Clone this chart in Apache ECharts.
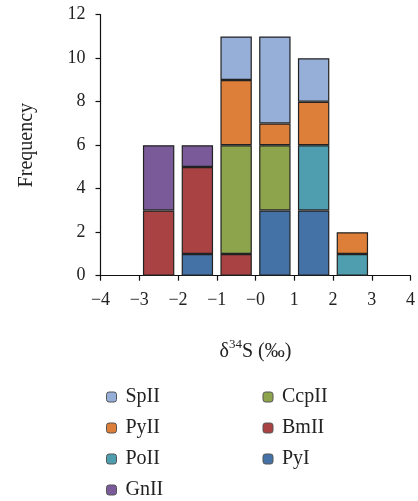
<!DOCTYPE html>
<html><head><meta charset="utf-8">
<script src="https://cdn.jsdelivr.net/npm/echarts@6/dist/echarts.min.js"></script>
<style>html,body{margin:0;padding:0;background:#fff}#c{width:418px;height:501px}</style>
</head><body><div id="c"></div>
<script>
// bins of width 1 from -4 to 4 (8 bins)
const bins = ['-4~-3','-3~-2','-2~-1','-1~0','0~1','1~2','2~3','3~4'];
const xTicks = [-4,-3,-2,-1,0,1,2,3,4];
const xTickLabels = ['\u22124','\u22123','\u22122','\u22121','\u22120','1','2','3','4'];
// stacked counts per bin (bottom to top order)
const PyI   = [null, null, 1, null, 3, 3, null, null];
const BmII  = [null, 3, 4, 1, null, null, null, null];
const CcpII = [null, null, null, 5, 3, null, null, null];
const PoII  = [null, null, null, null, null, 3, 1, null];
const PyII  = [null, null, null, 3, 1, 2, 1, null];
const SpII  = [null, null, null, 2, 4, 2, null, null];
const GnII  = [null, 3, 1, null, null, null, null, null];

const colors = {SpII:'#95AFD8', PyII:'#DD7E39', PoII:'#4E9EB0', GnII:'#7A5A99', CcpII:'#8DA44C', BmII:'#A84243', PyI:'#4472A6'};
const seriesData = {PyI, BmII, CcpII, PoII, PyII, SpII, GnII};
const font = 'Liberation Serif';

const chart = echarts.init(document.getElementById('c'));
const series = Object.keys(seriesData).map(name => ({
  name, type:'bar', stack:'s', xAxisIndex:1, data: seriesData[name],
  barCategoryGap:'19%',
  itemStyle:{color:colors[name], borderColor:'#222', borderWidth:1.2},
  emphasis:{disabled:true}
}));
const legendText = {fontFamily:font, fontSize:20, color:'#222', padding:[0,0,0,4], lineHeight:20};
chart.setOption({
  animation:false,
  grid:{left:100.5, right:3.5, top:14.7, bottom:225.3},
  xAxis:[{
    type:'value', min:-4, max:4, interval:1,
    axisLine:{lineStyle:{color:'#111', width:1.2}},
    axisTick:{show:true, length:5, lineStyle:{color:'#111', width:1.2}},
    splitLine:{show:false},
    axisLabel:{margin:16, fontFamily:font, fontSize:18, color:'#222',
      formatter: v => xTickLabels[xTicks.indexOf(Math.round(v))]},
    name:'{d|\u03b4}{s|34}{d|S (\u2030)}', nameLocation:'middle', nameGap:62,
    nameTextStyle:{rich:{
      d:{fontFamily:font, fontSize:20, lineHeight:24, color:'#222', verticalAlign:'bottom'},
      s:{fontFamily:font, fontSize:13, lineHeight:13, color:'#222', verticalAlign:'top'}}}
  },{
    type:'category', data:bins, show:false, boundaryGap:true
  }],
  yAxis:{
    type:'value', min:0, max:12, interval:2,
    axisLine:{show:true, onZero:false, lineStyle:{color:'#111', width:1.2}},
    axisTick:{show:true, length:5, lineStyle:{color:'#111', width:1.2}},
    splitLine:{show:false},
    axisLabel:{margin:15, fontFamily:font, fontSize:18, color:'#222'},
    name:'Frequency', nameLocation:'middle', nameGap:64,
    nameTextStyle:{fontFamily:font, fontSize:20, color:'#222'}
  },
  legend:[{
    orient:'vertical', left:101, top:382, height:130, itemWidth:10, itemHeight:10, itemGap:11,
    data:['SpII','PyII','PoII','GnII'],
    textStyle:legendText,
    itemStyle:{borderColor:'#555', borderWidth:1}
  },{
    orient:'vertical', left:257.5, top:382, height:130, itemWidth:10, itemHeight:10, itemGap:11,
    data:['CcpII','BmII','PyI'],
    textStyle:legendText,
    itemStyle:{borderColor:'#555', borderWidth:1}
  }],
  series
});
</script></body></html>
